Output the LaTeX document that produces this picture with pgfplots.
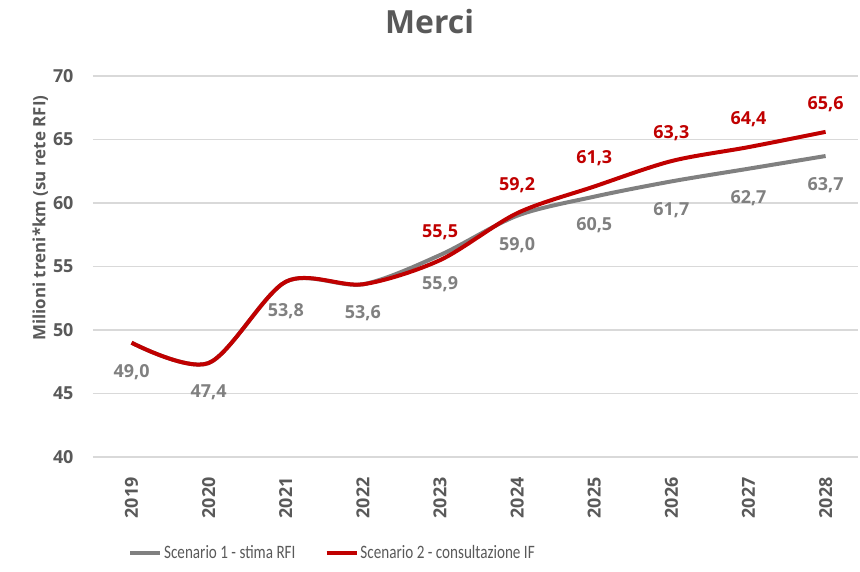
\documentclass[border=0pt]{standalone}
\usepackage{fontspec}
\setmainfont{Open Sans}
\newfontfamily\legfont{Carlito}[FakeStretch=0.8]
\usepackage{pgfplots}
\usepackage{pgfplotstable}
\pgfplotsset{compat=1.18}
\definecolor{sone}{HTML}{808080}
\definecolor{stwo}{HTML}{C00000}
\definecolor{txt}{HTML}{595959}
\definecolor{gridc}{HTML}{D9D9D9}
\pgfplotstableread{
x y
0 49.0
1 47.4
2 53.8
3 53.6
4 55.9
5 59.0
6 60.5
7 61.7
8 62.7
9 63.7
}\sone
\pgfplotstableread{
x y
0 49.0
1 47.4
2 53.8
3 53.6
4 55.5
5 59.2
6 61.3
7 63.3
8 64.4
9 65.6
}\stwo
\pgfplotstableread{
x y
4 55.5
5 59.2
6 61.3
7 63.3
8 64.4
9 65.6
}\stwolab
\begin{document}
\begin{tikzpicture}
\useasboundingbox (-93bp,-115bp) rectangle (767bp,457bp);
\begin{axis}[
  at={(0,0)}, anchor=south west,
  scale only axis, width=765bp, height=381bp,
  xmin=-0.5, xmax=9.42, ymin=40, ymax=70,
  xtick={0,...,9},
  xticklabels={2019,2020,2021,2022,2023,2024,2025,2026,2027,2028},
  ytick={40,45,...,70},
  /pgf/number format/assume math mode=true,
  axis line style={draw=none},
  tick style={draw=none},
  ymajorgrids,
  grid style={gridc, line width=1.2bp},
  x tick label style={yshift=-17bp, rotate=90, anchor=east, font=\bfseries\fontsize{18}{20}\selectfont, text=txt},
  y tick label style={xshift=-16bp, font=\bfseries\fontsize{18}{20}\selectfont, text=txt},
  ylabel={Milioni treni*km (su rete RFI)},
  ylabel style={at={(ticklabel cs:0.627)}, font=\bfseries\fontsize{17}{20}\selectfont, text=txt, yshift=-2bp},
  title={Merci},
  title style={at={(rel axis cs:0.44,1)}, anchor=center, yshift=48bp, font=\bfseries\fontsize{32}{36}\selectfont, text=txt},
  legend style={at={(0.313,-0.252)}, anchor=center, draw=none, fill=none, legend columns=2,
    font=\legfont\fontsize{19}{22}\selectfont, text=txt,
    /tikz/every even column/.append style={column sep=27bp}},
  legend image code/.code={\draw[#1] (0bp,0bp) -- (30bp,0bp);},
  legend cell align=left,
]
\addplot[sone, line width=4bp, smooth, no markers] table {\sone};
\addlegendentry{Scenario 1 - stima RFI}
\addplot[stwo, line width=4bp, smooth, no markers] table {\stwo};
\addlegendentry{Scenario 2 - consultazione IF}
\addplot[draw=none, no markers, forget plot,
  nodes near coords={\pgfmathprintnumber[fixed,fixed zerofill,precision=1,use comma,assume math mode=true]{\pgfplotspointmeta}},
  every node near coord/.append style={anchor=center, yshift=-29bp, font=\bfseries\fontsize{18}{20}\selectfont, text=sone}]
  table {\sone};
\addplot[draw=none, no markers, forget plot,
  nodes near coords={\pgfmathprintnumber[fixed,fixed zerofill,precision=1,use comma,assume math mode=true]{\pgfplotspointmeta}},
  every node near coord/.append style={anchor=center, yshift=28bp, font=\bfseries\fontsize{18}{20}\selectfont, text=stwo}]
  table {\stwolab};
\end{axis}
\end{tikzpicture}
\end{document}
